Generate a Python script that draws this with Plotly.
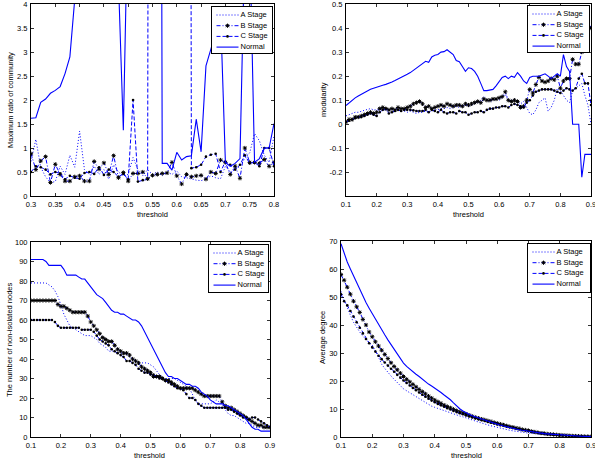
import plotly.graph_objects as go

W, H = 595, 461
FONT = "Liberation Sans, Arial, Helvetica, sans-serif"
BLUE = "#0000ff"

# ---------------- data ----------------
THRESH_1 = [round(0.30 + 0.01 * i, 2) for i in range(51)]
THRESH = [round(0.10 + 0.01 * i, 2) for i in range(81)]
SERIES_NAMES = ["A Stage", "B Stage", "C Stage", "Normal"]

# Panel 1: maximum ratio of community (0.30 .. 0.80)
ratio_A = [0.72, 1.18, 0.60, 0.40, 0.28, 0.30, 0.62, 0.45, 0.85, 0.60,
           1.35, 0.55, 0.45, 0.62, 0.45, 0.55, 0.35, 0.65, 0.50, 0.42,
           0.45, 0.80, 0.55, 0.42, 0.55, 0.45, 0.50, 0.42, 0.50, 0.45,
           0.52, 0.40, 0.38, 0.35, 0.33, 0.32, 0.35, 0.42, 0.38, 0.36,
           0.62, 0.50, 0.55, 0.62, 0.78, 0.90, 1.30, 1.15, 0.85, 0.70,
           1.25]
ratio_B = [0.88, 0.55, 0.73, 0.82, 0.28, 0.66, 0.45, 0.31, 0.31, 0.40,
           0.42, 0.31, 0.31, 0.72, 0.56, 0.69, 0.45, 0.84, 0.38, 0.49,
           0.31, 0.47, 0.47, 0.50, 0.36, 0.43, 0.45, 0.47, 0.48, 0.70,
           0.42, 0.25, 0.45, 0.40, 0.42, 0.43, 0.35, 0.50, 0.47, 0.75,
           0.70, 0.45, 0.62, 0.37, 1.00, 0.70, 0.70, 0.68, 0.76, 0.62,
           0.70]
ratio_C = [0.50, 0.62, 0.60, 0.55, 0.45, 0.50, 0.47, 0.35, 0.42, 0.38,
           0.36, 0.48, 0.50, 0.46, 0.60, 0.44, 0.55, 0.50, 0.40, 0.46,
           0.35, 2.00, 0.30, 0.33, 0.35, 60.0, 45.0, 30.0, 35.0, 50.0,
           40.0, 45.0, 60.0, 0.58, 0.60, 0.65, 0.82, 0.86, 0.88, 0.50,
           0.72, 0.65, 0.55, 0.65, 0.85, 0.68, 0.70, 0.62, 1.00, 1.00,
           0.62]
ratio_N = [1.62, 1.63, 1.95, 2.02, 2.14, 2.20, 2.28, 2.55, 2.90, 4.10,
           9.50, 12.0, 15.0, 18.0, 14.0, 20.0, 16.0, 11.0, 4.46, 1.37,
           6.40, 14.0, 22.0, 18.0, 25.0, 30.0, 40.0, 0.68, 0.68, 0.54,
           0.91, 0.75, 0.82, 0.84, 1.60, 0.92, 2.71, 3.05, 3.40, 3.80,
           0.70, 0.62, 0.68, 0.78, 5.40, 5.40, 0.70, 0.78, 1.00, 1.00,
           1.51]

# Panel 2: modularity (0.10 .. 0.90)
mod_A = [0.035, 0.04, 0.045, 0.05, 0.05, 0.055, 0.06, 0.062, 0.065, 0.06,
         0.06, 0.062, 0.06, 0.058, 0.06, 0.06, 0.058, 0.06, 0.055, 0.055,
         0.05, 0.055, 0.05, 0.045, 0.05, 0.05, 0.055, 0.05, 0.055, 0.06,
         0.06, 0.065, 0.065, 0.07, 0.065, 0.07, 0.075, 0.07, 0.075, 0.08,
         0.075, 0.08, 0.085, 0.09, 0.10, 0.115, 0.10, 0.095, 0.10, 0.105,
         0.10, 0.11, 0.125, 0.10, 0.10, 0.105, 0.095, 0.085, 0.095, 0.07,
         0.045, 0.04, 0.06, 0.09, 0.10, 0.11, 0.055, 0.07, 0.10, 0.15,
         0.14, 0.12, 0.10, 0.09, 0.14, 0.15, 0.16, 0.17, 0.12, 0.08,
         0.0]
mod_B = [0.01, 0.02, 0.02, 0.03, 0.03, 0.035, 0.04, 0.045, 0.05, 0.045,
         0.05, 0.065, 0.07, 0.065, 0.06, 0.065, 0.06, 0.07, 0.065, 0.065,
         0.07, 0.075, 0.085, 0.09, 0.095, 0.085, 0.07, 0.075, 0.065, 0.07,
         0.075, 0.08, 0.075, 0.085, 0.08, 0.075, 0.08, 0.08, 0.075, 0.085,
         0.08, 0.085, 0.09, 0.095, 0.09, 0.105, 0.10, 0.10, 0.105, 0.105,
         0.11, 0.115, 0.135, 0.10, 0.095, 0.10, 0.095, 0.07, 0.075, 0.10,
         0.145, 0.13, 0.165, 0.195, 0.18, 0.175, 0.18, 0.19, 0.185, 0.20,
         0.15, 0.18, 0.19, 0.19, 0.27, 0.25, 0.25, 0.30, 0.38, 0.43,
         0.40]
mod_C = [0.01, 0.015, 0.02, 0.025, 0.03, 0.03, 0.035, 0.04, 0.045, 0.04,
         0.035, 0.05, 0.06, 0.065, 0.045, 0.05, 0.055, 0.06, 0.055, 0.06,
         0.06, 0.06, 0.058, 0.055, 0.055, 0.055, 0.06, 0.05, 0.06, 0.055,
         0.05, 0.06, 0.05, 0.045, 0.05, 0.05, 0.045, 0.055, 0.05, 0.05,
         0.04, 0.045, 0.05, 0.05, 0.055, 0.05, 0.06, 0.065, 0.065, 0.07,
         0.07, 0.075, 0.075, 0.07, 0.08, 0.085, 0.08, 0.075, 0.07, 0.09,
         0.10, 0.12, 0.135, 0.14, 0.145, 0.145, 0.145, 0.145, 0.14, 0.135,
         0.13, 0.14, 0.15, 0.145, 0.14, 0.15, 0.19, 0.21, 0.17, 0.17,
         0.08]
mod_N = [0.078, 0.09, 0.10, 0.11, 0.118, 0.125, 0.132, 0.14, 0.146, 0.15,
         0.155, 0.158, 0.162, 0.166, 0.17, 0.176, 0.182, 0.188, 0.193, 0.20,
         0.208, 0.215, 0.225, 0.235, 0.245, 0.255, 0.262, 0.258, 0.28, 0.287,
         0.29, 0.30, 0.302, 0.31, 0.30, 0.29, 0.265, 0.26, 0.24, 0.22,
         0.235, 0.232, 0.22, 0.20, 0.17, 0.14, 0.14, 0.142, 0.145, 0.16,
         0.18, 0.195, 0.20, 0.19, 0.20, 0.195, 0.215, 0.20, 0.18, 0.17,
         0.195, 0.20, 0.20, 0.20, 0.205, 0.21, 0.20, 0.19, 0.20, 0.21,
         0.20, 0.29, 0.24, 0.22, 0.0, 0.0, 0.0, -0.22, -0.125, -0.125,
         -0.125]

# Panel 3: number of non-isolated nodes (0.10 .. 0.90)
nodes_A = [79, 79, 79, 79, 79, 79, 78, 77, 75, 72,
           68, 63, 60, 57, 56, 55, 54, 53, 52, 52,
           52, 51, 50, 48, 47, 46, 44, 44, 44, 43,
           43, 43, 42, 41, 40, 39, 38, 38, 38, 38,
           37, 36, 34, 32, 31, 30, 30, 30, 30, 29,
           28, 27, 26, 25, 22, 19, 17, 17, 17, 17,
           17, 18, 19, 18, 17, 14, 12, 11, 11, 10,
           9, 8, 7, 7, 6, 5, 5, 5, 5, 5,
           5]
nodes_B = [70, 70, 70, 70, 70, 70, 70, 70, 70, 68,
           67, 67, 66, 65, 64, 64, 64, 64, 64, 62,
           59, 57, 55, 53, 51, 50, 49, 49, 47, 45,
           44, 43, 43, 42, 40, 39, 38, 36, 35, 34,
           33, 31, 31, 31, 30, 29, 29, 28, 27, 26,
           25, 25, 25, 25, 25, 24, 23, 22, 21, 21,
           21, 21, 21, 21, 18, 16, 15, 15, 14, 13,
           12, 11, 10, 9, 8, 7, 6, 6, 5, 5,
           5]
nodes_C = [60, 60, 60, 60, 60, 60, 60, 60, 59, 57,
           56, 56, 56, 56, 56, 56, 56, 55, 55, 55,
           55, 54, 52, 50, 49, 48, 47, 45, 44, 43,
           42, 41, 39, 39, 38, 37, 35, 34, 33, 33,
           32, 32, 31, 30, 30, 29, 28, 27, 26, 25,
           25, 24, 22, 20, 20, 19, 17, 16, 15, 15,
           15, 15, 15, 15, 15, 15, 14, 14, 13, 12,
           11, 10, 10, 9, 10, 10, 9, 8, 7, 6,
           5]
nodes_N = [91, 91, 91, 91, 91, 90, 88, 88, 88, 88,
           88, 86, 83, 83, 83, 83, 82, 81, 81, 79,
           77, 75, 73, 72, 71, 69, 67, 65, 64, 64,
           63, 63, 62, 61, 60, 60, 59, 57, 54, 51,
           48, 45, 42, 39, 36, 33, 31, 31, 30, 30,
           29, 28, 27, 27, 26, 26, 25, 23, 22, 21,
           19, 18, 17, 17, 17, 16, 16, 15, 14, 13,
           12, 11, 9, 7, 5, 4, 4, 3, 3, 3,
           3]

# Panel 4: average degree (0.10 .. 0.90)
deg_A = [52, 49, 46, 43.5, 41, 39, 37.5, 36, 34.8, 33.8,
         32.8, 31, 28.5, 26, 24.5, 23, 21.8, 20.6, 19.5, 18.3,
         17.2, 16.5, 15.8, 15.0, 14.4, 13.8, 13.0, 12.3, 11.6, 11.0,
         10.6, 10.2, 9.8, 9.3, 8.9, 8.5, 8.1, 7.8, 7.5, 7.2,
         6.9, 6.5, 6.1, 5.7, 5.3, 5.0, 4.7, 4.3, 4.0, 3.7,
         3.4, 3.1, 2.9, 2.6, 2.4, 2.2, 2.0, 1.8, 1.7, 1.6,
         1.4, 1.3, 1.1, 1.0, 0.9, 0.8, 0.7, 0.6, 0.55, 0.5,
         0.45, 0.4, 0.35, 0.3, 0.25, 0.2, 0.18, 0.15, 0.12, 0.1,
         0.1]
deg_B = [58, 56, 53.5, 51, 48.5, 46.5, 44.5, 42, 40, 37.5,
         35.8, 34, 32.5, 31, 29.5, 28, 26.5, 25.2, 24, 22.8,
         21.6, 20.6, 19.7, 18.8, 17.9, 17.0, 16.2, 15.4, 14.6, 13.9,
         13.2, 12.6, 12.0, 11.4, 10.9, 10.4, 9.9, 9.4, 9.0, 8.6,
         8.2, 7.8, 7.4, 7.0, 6.7, 6.4, 6.1, 5.8, 5.5, 5.2,
         4.9, 4.6, 4.3, 4.0, 3.7, 3.5, 3.2, 3.0, 2.7, 2.5,
         2.3, 2.0, 1.8, 1.6, 1.4, 1.3, 1.1, 1.0, 0.9, 0.8,
         0.7, 0.6, 0.5, 0.45, 0.4, 0.35, 0.3, 0.25, 0.2, 0.2,
         0.15]
deg_C = [51, 48.5, 47, 45, 43, 41, 39, 37, 35, 33.5,
         32, 30.5, 29, 27.8, 26.6, 25.5, 24.4, 23.3, 22.2, 21.2,
         20.2, 19.3, 18.4, 17.5, 16.7, 15.9, 15.1, 14.4, 13.7, 13.0,
         12.4, 11.8, 11.3, 10.8, 10.3, 9.8, 9.3, 8.9, 8.5, 8.1,
         7.7, 7.3, 7.0, 6.6, 6.3, 6.0, 5.7, 5.4, 5.1, 4.8,
         4.5, 4.2, 4.0, 3.7, 3.5, 3.2, 3.0, 2.8, 2.5, 2.3,
         2.1, 1.9, 1.7, 1.5, 1.3, 1.2, 1.0, 0.9, 0.8, 0.7,
         0.6, 0.55, 0.5, 0.4, 0.35, 0.3, 0.25, 0.2, 0.2, 0.15,
         0.1]
deg_N = [69, 65.5, 62.5, 60, 57.5, 55, 52.5, 50.5, 48, 46,
         44, 42, 40, 38.5, 36.5, 34.7, 33, 31.3, 29.6, 28,
         26.4, 25.2, 24.2, 23.3, 22.4, 21.6, 20.6, 19.7, 18.9, 18.2,
         17.5, 16.7, 15.9, 15.0, 14.2, 13.3, 12.2, 11.1, 10.1, 9.3,
         8.6, 8.1, 7.6, 7.2, 6.8, 6.4, 6.0, 5.6, 5.2, 4.8,
         4.5, 4.2, 3.9, 3.6, 3.3, 3.0, 2.8, 2.6, 2.4, 2.2,
         2.0, 1.8, 1.6, 1.5, 1.3, 1.2, 1.1, 1.0, 0.9, 0.8,
         0.7, 0.6, 0.5, 0.45, 0.4, 0.35, 0.3, 0.25, 0.22, 0.2,
         0.18]

# tick labels
TICKS_X1 = ["0.3", "0.35", "0.4", "0.45", "0.5", "0.55", "0.6", "0.65", "0.7", "0.75", "0.8"]
TICKS_Y1 = ["0", "0.5", "1", "1.5", "2", "2.5", "3", "3.5", "4"]
TICKS_X = ["0.1", "0.2", "0.3", "0.4", "0.5", "0.6", "0.7", "0.8", "0.9"]
TICKS_Y2 = ["-0.2", "-0.1", "0", "0.1", "0.2", "0.3", "0.4", "0.5"]
TICKS_Y3 = ["0", "10", "20", "30", "40", "50", "60", "70", "80", "90", "100"]
TICKS_Y4 = ["0", "10", "20", "30", "40", "50", "60", "70"]

for arr in (mod_A, mod_B, mod_C, mod_N, nodes_A, nodes_B, nodes_C, nodes_N,
            deg_A, deg_B, deg_C, deg_N):
    assert len(arr) == 81, len(arr)
for arr in (ratio_A, ratio_B, ratio_C, ratio_N):
    assert len(arr) == 51, len(arr)

# ---------------- styles / layout constants ----------------
STYLE = {
    "A Stage": dict(mode="lines", line=dict(color=BLUE, width=1, dash="1px,2px")),
    "B Stage": dict(mode="lines+markers", line=dict(color=BLUE, width=1, dash="4px,2px,1px,2px"),
                    marker=dict(symbol="asterisk-open", size=3.5, color="black",
                                line=dict(color="black", width=1))),
    "C Stage": dict(mode="lines+markers", line=dict(color=BLUE, width=1, dash="4px,2px"),
                    marker=dict(symbol="circle", size=2.6, color="black",
                                line=dict(width=0))),
    "Normal": dict(mode="lines", line=dict(color=BLUE, width=1.1)),
}

PANELS = [
    dict(x=THRESH_1, ys=[ratio_A, ratio_B, ratio_C, ratio_N], box=(31, 274, 4, 196),
         xr=[0.3, 0.8], xt=TICKS_X1, yr=[0, 4], yt=TICKS_Y1,
         xtitle="threshold", ytitle="Maximum ratio of community", xtpos=(152, 214), ytpos=(10, 100),
         legend=(212, 272, 7, 53)),
    dict(x=THRESH, ys=[mod_A, mod_B, mod_C, mod_N], box=(346, 591, 4, 196),
         xr=[0.1, 0.9], xt=TICKS_X, yr=[-0.298, 0.5], yt=TICKS_Y2,
         xtitle="threshold", ytitle="modularity", xtpos=(468, 214), ytpos=(323, 100),
         legend=(528, 589, 6, 52)),
    dict(x=THRESH, ys=[nodes_A, nodes_B, nodes_C, nodes_N], box=(31, 270, 242, 437),
         xr=[0.1, 0.9], xt=TICKS_X, yr=[0, 100], yt=TICKS_Y3,
         xtitle="threshold", ytitle="The number of non-isolated nodes", xtpos=(149, 455), ytpos=(9, 340),
         legend=(209, 268, 245, 292)),
    dict(x=THRESH, ys=[deg_A, deg_B, deg_C, deg_N], box=(341, 591, 241, 437),
         xr=[0.1, 0.9], xt=TICKS_X, yr=[0, 70], yt=TICKS_Y4,
         xtitle="threshold", ytitle="Average degree", xtpos=(466, 455), ytpos=(322, 338),
         legend=(528, 590, 244, 292)),
]

LEG_SAMPLE_X = [4.5, 26.5]
LEG_MARK_X = 15.5
LEG_TEXT_X = 28.5
LEG_ROWS = [8, 18.7, 29.4, 40.1]


def xdom(l, r):
    return [l / W, r / W]


def ydom(t, b):
    return [1 - b / H, 1 - t / H]


fig = go.Figure()
layout = dict(template="none", width=W, height=H, margin=dict(l=0, r=0, t=0, b=0, pad=0),
              autosize=False,
              paper_bgcolor="white", plot_bgcolor="white", showlegend=False,
              font=dict(family=FONT, size=8, color="black"), annotations=[])

AX = dict(showline=True, linecolor="black", linewidth=1, mirror="ticks", ticks="inside",
          ticklen=3, tickwidth=0.8, tickcolor="black", showgrid=False, zeroline=False,
          automargin=False, ticklabeloverflow="allow",
          tickfont=dict(family=FONT, size=7.5, color="black"), fixedrange=True)

for i, p in enumerate(PANELS):
    k = i + 1
    xs = "" if k == 1 else str(k)
    for name, ys in zip(SERIES_NAMES, p["ys"]):
        fig.add_trace(go.Scatter(x=p["x"], y=ys, name=name, xaxis="x" + xs, yaxis="y" + xs,
                                 hoverinfo="skip", **STYLE[name]))
    l, r, t, b = p["box"]
    xvals = [float(v) for v in p["xt"]]
    yvals = [float(v) for v in p["yt"]]
    layout["xaxis" + xs] = dict(AX, domain=xdom(l, r), range=p["xr"], anchor="y" + xs,
                                tickvals=xvals, ticktext=p["xt"], ticklabelstandoff=1)
    layout["yaxis" + xs] = dict(AX, domain=ydom(t, b), range=p["yr"], anchor="x" + xs,
                                tickvals=yvals, ticktext=p["yt"], ticklabelstandoff=1)
    layout["annotations"].append(dict(x=p["xtpos"][0] / W, y=1 - p["xtpos"][1] / H, xref="paper", yref="paper",
                                      text=p["xtitle"], showarrow=False, xanchor="center", yanchor="middle",
                                      font=dict(family=FONT, size=7.5, color="black")))
    layout["annotations"].append(dict(x=p["ytpos"][0] / W, y=1 - p["ytpos"][1] / H, xref="paper", yref="paper",
                                      text=p["ytitle"], showarrow=False, textangle=-90,
                                      xanchor="center", yanchor="middle",
                                      font=dict(family=FONT, size=7.5, color="black")))

    # legend box drawn as an inset subplot
    kl = k + 4
    ls = str(kl)
    ll, lr, lt, lb = p["legend"]
    lw, lh = lr - ll, lb - lt
    for name, row in zip(SERIES_NAMES, LEG_ROWS):
        st = dict(STYLE[name])
        st["mode"] = "lines"
        st.pop("marker", None)
        fig.add_trace(go.Scatter(x=LEG_SAMPLE_X, y=[row, row], xaxis="x" + ls, yaxis="y" + ls,
                                 hoverinfo="skip", **st))
        if name in ("B Stage", "C Stage"):
            fig.add_trace(go.Scatter(x=[LEG_MARK_X], y=[row], xaxis="x" + ls, yaxis="y" + ls,
                                     mode="markers", marker=STYLE[name]["marker"], hoverinfo="skip"))
    fig.add_trace(go.Scatter(x=[LEG_TEXT_X] * 4, y=LEG_ROWS, text=SERIES_NAMES, mode="text",
                             textposition="middle right", xaxis="x" + ls, yaxis="y" + ls,
                             textfont=dict(family=FONT, size=7.5, color="black"), hoverinfo="skip"))
    LAX = dict(showline=True, linecolor="black", linewidth=1.4, mirror=True, ticks="",
               showticklabels=False, showgrid=False, zeroline=False, fixedrange=True,
               automargin=False)
    layout["xaxis" + ls] = dict(LAX, domain=xdom(ll, lr), range=[0, lw], anchor="y" + ls)
    layout["yaxis" + ls] = dict(LAX, domain=ydom(lt, lb), range=[lh, 0], anchor="x" + ls)

fig.update_layout(**layout)
fig.write_html("out.html", config={"displayModeBar": False, "staticPlot": True},
               post_script="document.body.style.margin='0';document.body.style.padding='0';"
                           "document.body.style.overflow='hidden';")
